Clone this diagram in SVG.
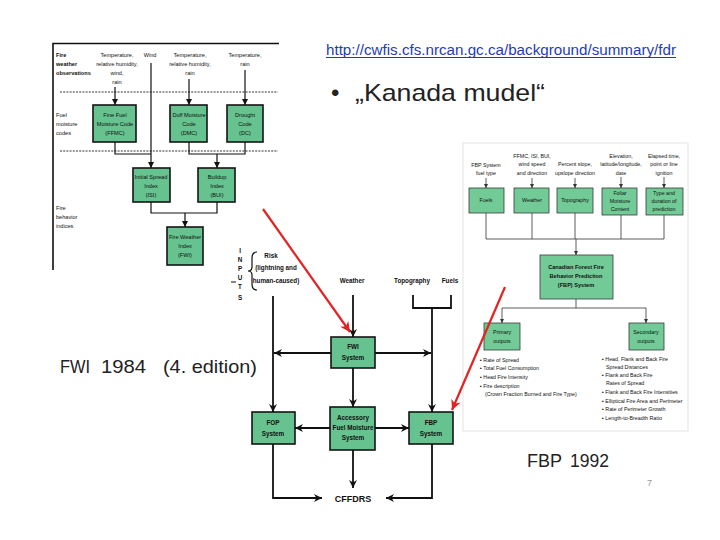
<svg xmlns="http://www.w3.org/2000/svg" width="720" height="540" viewBox="0 0 720 540">
<defs>
<style>
.t{font-family:"Liberation Sans",Arial,sans-serif;fill:#111}
.s{font-size:5.6px}
.b{font-weight:bold}
.m{font-size:6.3px}
.f{font-size:5.3px}
.c{text-anchor:middle}
.bx{fill:#66c28e;stroke:#151515;stroke-width:1.6}
.bx2{fill:#72cb96;stroke:#3a3a3a;stroke-width:0.8}
.ln{fill:none;stroke:#111;stroke-width:1.2}
.ln2{fill:none;stroke:#111;stroke-width:1.8}
.ln3{fill:none;stroke:#333;stroke-width:0.8}
.red{fill:none;stroke:#e32222;stroke-width:2.2}
.big{font-family:"Liberation Sans","Open Sans",sans-serif;fill:#222}
</style>
<marker id="a1" viewBox="0 0 10 10" refX="10" refY="5" markerWidth="6" markerHeight="6" markerUnits="userSpaceOnUse" orient="auto"><path d="M0,0 L10,5 L0,10 z" fill="#111"/></marker>
<marker id="a2" viewBox="0 0 10 10" refX="10" refY="5" markerWidth="9" markerHeight="8" markerUnits="userSpaceOnUse" orient="auto"><path d="M0,0 L10,5 L0,10 L3,5 z" fill="#111"/></marker>
<marker id="a3" viewBox="0 0 10 10" refX="10" refY="5" markerWidth="4" markerHeight="4" markerUnits="userSpaceOnUse" orient="auto"><path d="M0,0 L10,5 L0,10 z" fill="#333"/></marker>
<marker id="ar" viewBox="0 0 10 10" refX="10" refY="5" markerWidth="11" markerHeight="10" markerUnits="userSpaceOnUse" orient="auto"><path d="M0,0 L10,5 L0,10 L3,5 z" fill="#e32222"/></marker>
</defs>
<rect width="720" height="540" fill="#fff"/>

<!-- slide texts -->
<g id="url"><text x="326" y="55" class="big" font-size="14" fill="#1f3cb4" style="fill:#1f3cb4" textLength="350" lengthAdjust="spacingAndGlyphs">http://cwfis.cfs.nrcan.gc.ca/background/summary/fdr</text><line x1="326" y1="57.5" x2="676" y2="57.5" stroke="#1f3cb4" stroke-width="1"/></g>
<g id="title"><text x="331" y="101" class="big" font-size="24">•</text><text x="355" y="101" class="big" font-size="24" textLength="190" lengthAdjust="spacingAndGlyphs">„Kanada mudel“</text></g>
<g id="fwi-label"><text x="60" y="373" class="big" font-size="19" textLength="30" lengthAdjust="spacingAndGlyphs">FWI</text><text x="101" y="373" class="big" font-size="19" textLength="45" lengthAdjust="spacingAndGlyphs">1984</text><text x="163" y="373" class="big" font-size="19" textLength="94" lengthAdjust="spacingAndGlyphs">(4. edition)</text></g>
<g id="fbp-label"><text x="527" y="467" class="big" font-size="18" textLength="35" lengthAdjust="spacingAndGlyphs">FBP</text><text x="570" y="467" class="big" font-size="18" textLength="39" lengthAdjust="spacingAndGlyphs">1992</text></g>
<g id="page"><text x="647" y="486" class="big" font-size="9" style="fill:#999">7</text></g>

<!-- FWI panel frame -->
<g id="fwi-frame">
<path d="M53,270 L53,43.5 L279,43.5" fill="none" stroke="#111" stroke-width="1.6"/>
<line x1="60" y1="92" x2="278" y2="92" stroke="#333" stroke-width="1" stroke-dasharray="2,1.2"/>
<line x1="60" y1="151" x2="278" y2="151" stroke="#333" stroke-width="1" stroke-dasharray="2,1.2"/>
<text class="t s b"><tspan x="56" y="57">Fire</tspan><tspan x="56" y="66">weather</tspan><tspan x="56" y="75">observations</tspan></text>
<text class="t s"><tspan x="56" y="117">Fuel</tspan><tspan x="56" y="126">moisture</tspan><tspan x="56" y="135">codes</tspan></text>
<text class="t s"><tspan x="56" y="210">Fire</tspan><tspan x="56" y="219">behavior</tspan><tspan x="56" y="228">indices</tspan></text>
<text class="t s c"><tspan x="117" y="57">Temperature,</tspan><tspan x="117" y="66">relative humidity,</tspan><tspan x="117" y="75">wind,</tspan><tspan x="117" y="84">rain</tspan></text>
<text class="t s c" x="150" y="57">Wind</text>
<text class="t s c"><tspan x="190" y="57">Temperature,</tspan><tspan x="190" y="66">relative humidity,</tspan><tspan x="190" y="75">rain</tspan></text>
<text class="t s c"><tspan x="245" y="57">Temperature,</tspan><tspan x="245" y="66">rain</tspan></text>
</g>

<g id="ffmc"><rect x="93" y="105" width="43" height="37" class="bx"/><text class="t s c"><tspan x="115" y="117">Fine Fuel</tspan><tspan x="115" y="126">Moisture Code</tspan><tspan x="115" y="135">(FFMC)</tspan></text></g>
<g id="dmc"><rect x="170" y="105" width="37" height="37" class="bx"/><text class="t s c"><tspan x="189" y="117">Duff Moisture</tspan><tspan x="189" y="126">Code</tspan><tspan x="189" y="135">(DMC)</tspan></text></g>
<g id="dc"><rect x="227" y="105" width="36" height="37" class="bx"/><text class="t s c"><tspan x="245" y="117">Drought</tspan><tspan x="245" y="126">Code</tspan><tspan x="245" y="135">(DC)</tspan></text></g>
<g id="isi"><rect x="133" y="168" width="37" height="34" class="bx"/><text class="t s c"><tspan x="151" y="179">Initial Spread</tspan><tspan x="151" y="188">Index</tspan><tspan x="151" y="197">(ISI)</tspan></text></g>
<g id="bui"><rect x="198" y="168" width="37" height="34" class="bx"/><text class="t s c"><tspan x="217" y="179">Buildup</tspan><tspan x="217" y="188">Index</tspan><tspan x="217" y="197">(BUI)</tspan></text></g>
<g id="fwi"><rect x="167" y="227" width="36" height="38" class="bx"/><text class="t s c"><tspan x="185" y="239">Fire Weather</tspan><tspan x="185" y="248">Index</tspan><tspan x="185" y="257">(FWI)</tspan></text></g>

<!-- middle diagram nodes -->
<g id="inputs">
<text class="t m b c"><tspan x="240" y="253">I</tspan><tspan x="240" y="262">N</tspan><tspan x="240" y="271">P</tspan><tspan x="240" y="280">U</tspan><tspan x="240" y="289">T</tspan><tspan x="240" y="300">S</tspan></text>
<path d="M257,252 Q252,252 252,258 L252,267 Q252,271 248,271 Q252,271 252,275 L252,284 Q252,290 257,290" fill="none" stroke="#111" stroke-width="1.2"/>
<line x1="231" y1="282" x2="236" y2="282" stroke="#111" stroke-width="1"/>
</g>
<g id="risk"><text class="t m b c"><tspan x="271" y="258">Risk</tspan><tspan x="276" y="270">(lightning and</tspan><tspan x="276" y="283">human-caused)</tspan></text></g>
<g id="weather"><text class="t m b c" x="352" y="283">Weather</text></g>
<g id="topography"><text class="t m b c" x="412" y="283">Topography</text></g>
<g id="fuels"><text class="t m b c" x="450" y="283">Fuels</text></g>
<g id="fwi-system"><rect x="331" y="337" width="44" height="31" class="bx"/><text class="t m b c"><tspan x="353" y="349">FWI</tspan><tspan x="353" y="360">System</tspan></text></g>
<g id="fop-system"><rect x="252" y="412" width="43" height="32" class="bx"/><text class="t m b c"><tspan x="273" y="425">FOP</tspan><tspan x="273" y="436">System</tspan></text></g>
<g id="accessory"><rect x="330" y="407" width="45" height="43" class="bx"/><text class="t m b c"><tspan x="353" y="420">Accessory</tspan><tspan x="353" y="430">Fuel Moisture</tspan><tspan x="353" y="440">System</tspan></text></g>
<g id="fbp-system"><rect x="409" y="412" width="44" height="32" class="bx"/><text class="t m b c"><tspan x="431" y="425">FBP</tspan><tspan x="431" y="436">System</tspan></text></g>
<g id="cffdrs"><text class="t b c" font-size="9" x="353" y="502">CFFDRS</text></g>

<!-- FBP panel -->
<g id="fbp-frame"><rect x="463" y="143" width="225" height="288" fill="#fff" stroke="#e3e3e3" stroke-width="1"/>
<text class="t f c"><tspan x="486" y="167">FBP System</tspan><tspan x="486" y="175">fuel type</tspan></text>
<text class="t f c"><tspan x="532" y="158">FFMC, ISI, BUI,</tspan><tspan x="532" y="166">wind speed</tspan><tspan x="532" y="175">and direction</tspan></text>
<text class="t f c"><tspan x="575" y="166">Percent slope,</tspan><tspan x="575" y="175">upslope direction</tspan></text>
<text class="t f c"><tspan x="621" y="158">Elevation,</tspan><tspan x="621" y="166">latitude/longitude,</tspan><tspan x="621" y="175">date</tspan></text>
<text class="t f c"><tspan x="664" y="158">Elapsed time,</tspan><tspan x="664" y="166">point or line</tspan><tspan x="664" y="175">ignition</tspan></text>
</g>
<g id="fbp-fuels"><rect x="469" y="188" width="35" height="25" class="bx2"/><text class="t f c" x="486" y="202">Fuels</text></g>
<g id="fbp-weather"><rect x="514" y="188" width="35" height="25" class="bx2"/><text class="t f c" x="532" y="202">Weather</text></g>
<g id="fbp-topo"><rect x="557" y="188" width="36" height="25" class="bx2"/><text class="t f c" x="575" y="202">Topography</text></g>
<g id="fbp-foliar"><rect x="602" y="188" width="35" height="27" class="bx2"/><text class="t f c"><tspan x="620" y="195">Foliar</tspan><tspan x="620" y="203">Moisture</tspan><tspan x="620" y="211">Content</tspan></text></g>
<g id="fbp-type"><rect x="646" y="188" width="37" height="27" class="bx2"/><text class="t f c"><tspan x="664" y="195">Type and</tspan><tspan x="664" y="203">duration of</tspan><tspan x="664" y="211">prediction</tspan></text></g>
<g id="fbp-main"><rect x="540" y="255" width="73" height="44" class="bx2"/><text class="t b c" font-size="5.6"><tspan x="576" y="269">Canadian Forest Fire</tspan><tspan x="576" y="278">Behavior Prediction</tspan><tspan x="576" y="287">(FBP) System</tspan></text></g>
<g id="fbp-primary"><rect x="484" y="323" width="36" height="27" class="bx2"/><text class="t f c"><tspan x="502" y="334">Primary</tspan><tspan x="502" y="343">outputs</tspan></text></g>
<g id="fbp-secondary"><rect x="629" y="323" width="35" height="27" class="bx2"/><text class="t f c"><tspan x="646" y="334">Secondary</tspan><tspan x="646" y="343">outputs</tspan></text></g>
<g id="primary-list"><text class="t f"><tspan x="480" y="362">▪ Rate of Spread</tspan><tspan x="480" y="370">▪ Total Fuel Consumption</tspan><tspan x="480" y="379">▪ Head Fire Intensity</tspan><tspan x="480" y="388">▪ Fire description</tspan><tspan x="485" y="396">(Crown Fraction Burned and Fire Type)</tspan></text></g>
<g id="secondary-list"><text class="t f"><tspan x="602" y="361">▪ Head, Flank and Back Fire</tspan><tspan x="606" y="369">Spread Distances</tspan><tspan x="602" y="377">▪ Flank and Back Fire</tspan><tspan x="606" y="385">Rates of Spread</tspan><tspan x="602" y="394">▪ Flank and Back Fire Intensities</tspan><tspan x="602" y="403">▪ Elliptical Fire Area and Perimeter</tspan><tspan x="602" y="411">▪ Rate of Perimeter Growth</tspan><tspan x="602" y="420">▪ Length-to-Breadth Ratio</tspan></text></g>

<!-- connectors -->
<g id="connectors">
<path class="ln" d="M115,87 V105" marker-end="url(#a1)"/>
<path class="ln" d="M151,63 V168" marker-end="url(#a1)"/>
<path class="ln" d="M189,79 V105" marker-end="url(#a1)"/>
<path class="ln" d="M245,70 V105" marker-end="url(#a1)"/>
<path class="ln" d="M115,142 V154 H151"/>
<path class="ln" d="M189,142 V154 H245 V142"/>
<path class="ln" d="M217,154 V168" marker-end="url(#a1)"/>
<path class="ln" d="M151,202 V213 H217 V202"/>
<path class="ln" d="M185,213 V227" marker-end="url(#a1)"/>

<path class="ln2" d="M273,296 V412" marker-end="url(#a2)"/>
<path class="ln2" d="M353,295 V337" marker-end="url(#a2)"/>
<path class="ln2" d="M413,295 V308 H451 V295"/>
<path class="ln2" d="M432,308 V412" marker-end="url(#a2)"/>
<path class="ln2" d="M331,353 H274" marker-end="url(#a2)"/>
<path class="ln2" d="M375,353 H431" marker-end="url(#a2)"/>
<path class="ln2" d="M353,368 V407" marker-end="url(#a2)"/>
<path class="ln2" d="M330,428 H295" marker-end="url(#a2)"/>
<path class="ln2" d="M375,428 H409" marker-end="url(#a2)"/>
<path class="ln2" d="M353,450 V488" marker-end="url(#a2)"/>
<path class="ln2" d="M273,444 V498 H322" marker-end="url(#a2)"/>
<path class="ln2" d="M432,444 V498 H386" marker-end="url(#a2)"/>

<path class="ln3" d="M486,178 V188" marker-end="url(#a3)"/>
<path class="ln3" d="M532,178 V188" marker-end="url(#a3)"/>
<path class="ln3" d="M575,178 V188" marker-end="url(#a3)"/>
<path class="ln3" d="M621,177 V188" marker-end="url(#a3)"/>
<path class="ln3" d="M664,177 V188" marker-end="url(#a3)"/>
<path class="ln3" d="M486,213 V239 M532,213 V239 M575,213 V239 M621,215 V239 M664,215 V239 M486,239 H664"/>
<path class="ln3" d="M576,239 V255" marker-end="url(#a3)"/>
<path class="ln3" d="M576,299 V308 M502,308 H646"/>
<path class="ln3" d="M502,308 V323" marker-end="url(#a3)"/>
<path class="ln3" d="M646,308 V323" marker-end="url(#a3)"/>

<path class="red" d="M263,209 L350,332" marker-end="url(#ar)"/>
<path class="red" d="M505,287 L452,410" marker-end="url(#ar)"/>
</g>
</svg>
